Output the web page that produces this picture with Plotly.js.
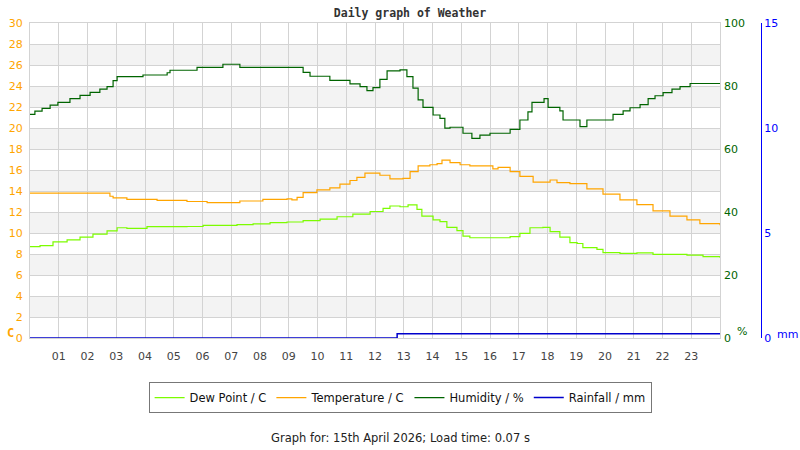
<!DOCTYPE html>
<html>
<head>
<meta charset="utf-8">
<script src="https://cdn.plot.ly/plotly-3.0.1.min.js"></script>
<style>
  body { margin: 0; background: #fff; }
  #weather_graph { width: 800px; height: 450px; }
</style>
</head>
<body>
<div id="weather_graph"></div>
<script>

// Readings for the day (hour of day -> value)
var temp_hours = [0, 2.68, 2.78, 2.89, 3.37, 4.42, 5.46, 6.16, 7.2, 7.3, 8.1, 8.94, 9.11, 9.29, 9.5, 9.98,
                  10.43, 10.78, 11.13, 11.37, 11.65, 12.07, 12.17, 12.52, 12.97, 13.22, 13.5, 13.91, 14.16,
                  14.33, 14.61, 14.96, 15.3, 15.76, 16.1, 16.28, 16.7, 17.04, 17.5, 17.9, 18.09, 18.33, 18.78,
                  19.06, 19.37, 19.93, 20.52, 21.11, 21.67, 22.26, 22.85, 23.3, 24];
var temp_values = [13.8, 13.8, 13.5, 13.35, 13.2, 13.1, 13.0, 12.9, 12.9, 13.05, 13.2, 13.25, 13.15, 13.4, 13.85, 14.1,
                   14.3, 14.65, 15.0, 15.3, 15.7, 15.7, 15.5, 15.15, 15.2, 15.85, 16.4, 16.5, 16.6,
                   16.95, 16.7, 16.5, 16.4, 16.4, 16.1, 16.25, 15.85, 15.4, 14.85, 14.85, 15.05, 14.8, 14.7,
                   14.7, 14.2, 13.7, 13.15, 12.7, 12.1, 11.6, 11.25, 10.9, 10.75];

var dew_hours = [0, 0.35, 0.8, 1.29, 1.74, 2.19, 2.68, 3.03, 3.37, 4.07, 5.46, 6.02, 7.2, 7.76, 8.35, 8.94, 9.5,
                 10.09, 10.68, 11.23, 11.83, 12.28, 12.52, 12.87, 13.15, 13.46, 13.63, 14.02, 14.26, 14.5, 14.85,
                 15.06, 15.3, 16.24, 16.7, 17.04, 17.39, 17.84, 18.09, 18.43, 18.78, 19.03, 19.23, 19.72, 19.93,
                 20.52, 21.11, 21.67, 22.26, 22.85, 23.41, 24];
var dew_values = [8.7, 8.8, 9.15, 9.35, 9.6, 9.9, 10.2, 10.5, 10.45, 10.6, 10.62, 10.73, 10.8, 10.86, 10.98, 11.05, 11.17,
                  11.33, 11.55, 11.8, 12.05, 12.35, 12.57, 12.5, 12.67, 12.25, 11.6, 11.25, 11.08, 10.54, 10.22,
                  9.7, 9.55, 9.55, 9.65, 9.97, 10.5, 10.54, 10.13, 9.6, 9.08, 9.0, 8.6, 8.44, 8.13,
                  8.06, 8.1, 7.97, 7.97, 7.9, 7.75, 7.65];

var hum_hours = [0, 0.17, 0.42, 0.7, 0.97, 1.39, 1.74, 2.09, 2.43, 2.68, 2.89, 3.03, 3.93, 4.77, 4.87, 5.67, 5.81,
                 6.71, 7.06, 7.3, 9.39, 9.5, 9.74, 10.37, 10.43, 11.03, 11.13, 11.37, 11.48, 11.72, 11.93, 12.17,
                 12.42, 12.8, 12.87, 13.11, 13.32, 13.5, 13.67, 14.02, 14.26, 14.43, 14.61, 14.89, 15.06, 15.37,
                 15.65, 16.0, 16.45, 16.7, 17.04, 17.32, 17.46, 17.84, 17.88, 18.02, 18.43, 18.54, 18.96, 19.13,
                 19.37, 19.93, 20.28, 20.63, 20.87, 21.22, 21.5, 21.74, 22.02, 22.33, 22.61, 22.96, 24];
var hum_values = [71.0, 72.0, 72.9, 73.9, 74.8, 76.0, 77.0, 78.0, 79.0, 79.8, 81.7, 83.0, 83.5, 84.2, 85.0, 85.0, 85.9,
                  86.9, 86.9, 85.9, 85.9, 84.3, 83.1, 83.1, 81.8, 81.8, 80.7, 80.7, 79.8, 78.5, 79.5, 82.1,
                  84.8, 84.8, 85.1, 83.0, 79.3, 75.6, 73.2, 70.8, 69.7, 66.6, 66.9, 66.9, 65.0, 63.4,
                  64.4, 65.0, 65.0, 66.25, 69.2, 71.8, 74.8, 74.8, 76.0, 73.2, 72.1, 69.2, 69.2, 67.1,
                  69.2, 69.2, 71.0, 72.1, 73.1, 74.1, 76.0, 76.9, 77.9, 79.0, 79.8, 80.8, 80.8];

var rain_hours = [0, 12.77, 24];
var rain_values = [0, 0.2, 0.2];

var hour_ticks = [];
for (var h = 1; h <= 23; h++) { hour_ticks.push(h); }
var hour_labels = hour_ticks.map(function(h) { return (h < 10 ? '0' : '') + h; });

var title_text = 'Daily graph of Weather';
var footer_text = 'Graph for: 15th April 2026; Load time: 0.07 s';

// Traces
var traces = [
    { x: dew_hours, y: dew_values, name: 'Dew Point / C', type: 'scatter', mode: 'lines',
      line: { color: '#7cfc00', width: 1.2, shape: 'hv' }, yaxis: 'y' },
    { x: temp_hours, y: temp_values, name: 'Temperature / C', type: 'scatter', mode: 'lines',
      line: { color: '#ffa500', width: 1.2, shape: 'hv' }, yaxis: 'y' },
    { x: hum_hours, y: hum_values, name: 'Humidity / %', type: 'scatter', mode: 'lines',
      line: { color: '#006400', width: 1.2, shape: 'hv' }, yaxis: 'y2' },
    { x: rain_hours, y: rain_values, name: 'Rainfall / mm', type: 'scatter', mode: 'lines',
      line: { color: '#0000cc', width: 1.5, shape: 'hv' }, yaxis: 'y3' }
];

// grey bands every other 2 degrees
var shapes = [];
for (var b = 2; b < 30; b += 4) {
    shapes.push({ type: 'rect', xref: 'x domain', x0: 0, x1: 1, yref: 'y', y0: b, y1: b + 2,
                  fillcolor: '#f3f3f3', line: { width: 0 }, layer: 'below' });
}

var tickfont = { family: 'DejaVu Sans', size: 11 };

var layout = {
    width: 800, height: 450,
    plot_bgcolor: 'white',
    paper_bgcolor: 'white',
    margin: { l: 30, r: 10, t: 23, b: 112 },
    title: { text: '<b>' + title_text + '</b>', x: 0.5, xref: 'paper', y: 1 - 13 / 450, yanchor: 'middle',
             font: { family: 'DejaVu Sans Mono', size: 11.5, color: '#333' } },
    xaxis: { domain: [0, 0.9079], range: [0, 24], tickvals: hour_ticks, ticktext: hour_labels,
             showgrid: true, gridcolor: '#d3d3d3', zeroline: false, ticks: '',
             showline: true, mirror: true, linecolor: '#d3d3d3', ticklabelstandoff: 8,
             tickfont: Object.assign({ color: '#444' }, tickfont), fixedrange: true },
    yaxis: { range: [0, 30], dtick: 2, showgrid: true, gridcolor: '#d3d3d3', zeroline: false,
             showline: true, mirror: true, linecolor: '#d3d3d3', ticks: '', ticklabelstandoff: 4,
             tickfont: Object.assign({ color: '#ffa500' }, tickfont), fixedrange: true },
    yaxis2: { overlaying: 'y', side: 'right', anchor: 'x', range: [0, 100], dtick: 20, showgrid: false,
              zeroline: false, ticks: '', ticklabelstandoff: 3,
              tickfont: Object.assign({ color: '#006400' }, tickfont), fixedrange: true },
    yaxis3: { overlaying: 'y', side: 'right', anchor: 'free', position: 0.9618, range: [0, 15], dtick: 5,
              showgrid: false, zeroline: false, showline: true, linecolor: '#0000ff', linewidth: 1, ticks: '',
              tickfont: Object.assign({ color: '#0000ff' }, tickfont), fixedrange: true },
    shapes: shapes,
    showlegend: true,
    legend: { orientation: 'h', x: 0.487, xanchor: 'center', y: -0.14, yanchor: 'top',
              bordercolor: '#777', borderwidth: 1, bgcolor: 'white',
              font: { family: 'DejaVu Sans', size: 11.5, color: '#111' } },
    annotations: [
        { text: '<b>C</b>', xref: 'paper', yref: 'paper', x: -0.033, y: 0.016, yanchor: 'middle', showarrow: false,
          font: { family: 'DejaVu Sans Mono', size: 12, color: '#ffa500' } },
        { text: '%', xref: 'paper', yref: 'paper', x: 0.927, xanchor: 'left', y: 0.022, yanchor: 'middle', showarrow: false,
          font: { family: 'DejaVu Sans', size: 11, color: '#006400' } },
        { text: 'mm', xref: 'paper', yref: 'paper', x: 0.98, xanchor: 'left', y: 0.012, yanchor: 'middle', showarrow: false,
          font: { family: 'DejaVu Sans', size: 11, color: '#0000ff' } },
        { text: footer_text, xref: 'paper', yref: 'paper', x: 0.487, y: -0.317, yanchor: 'middle', showarrow: false,
          font: { family: 'DejaVu Sans', size: 11.5, color: '#222' } }
    ],
    hovermode: false
};

var config = { staticPlot: true, displayModeBar: false };

Plotly.newPlot('weather_graph', traces, layout, config);

</script>
</body>
</html>
